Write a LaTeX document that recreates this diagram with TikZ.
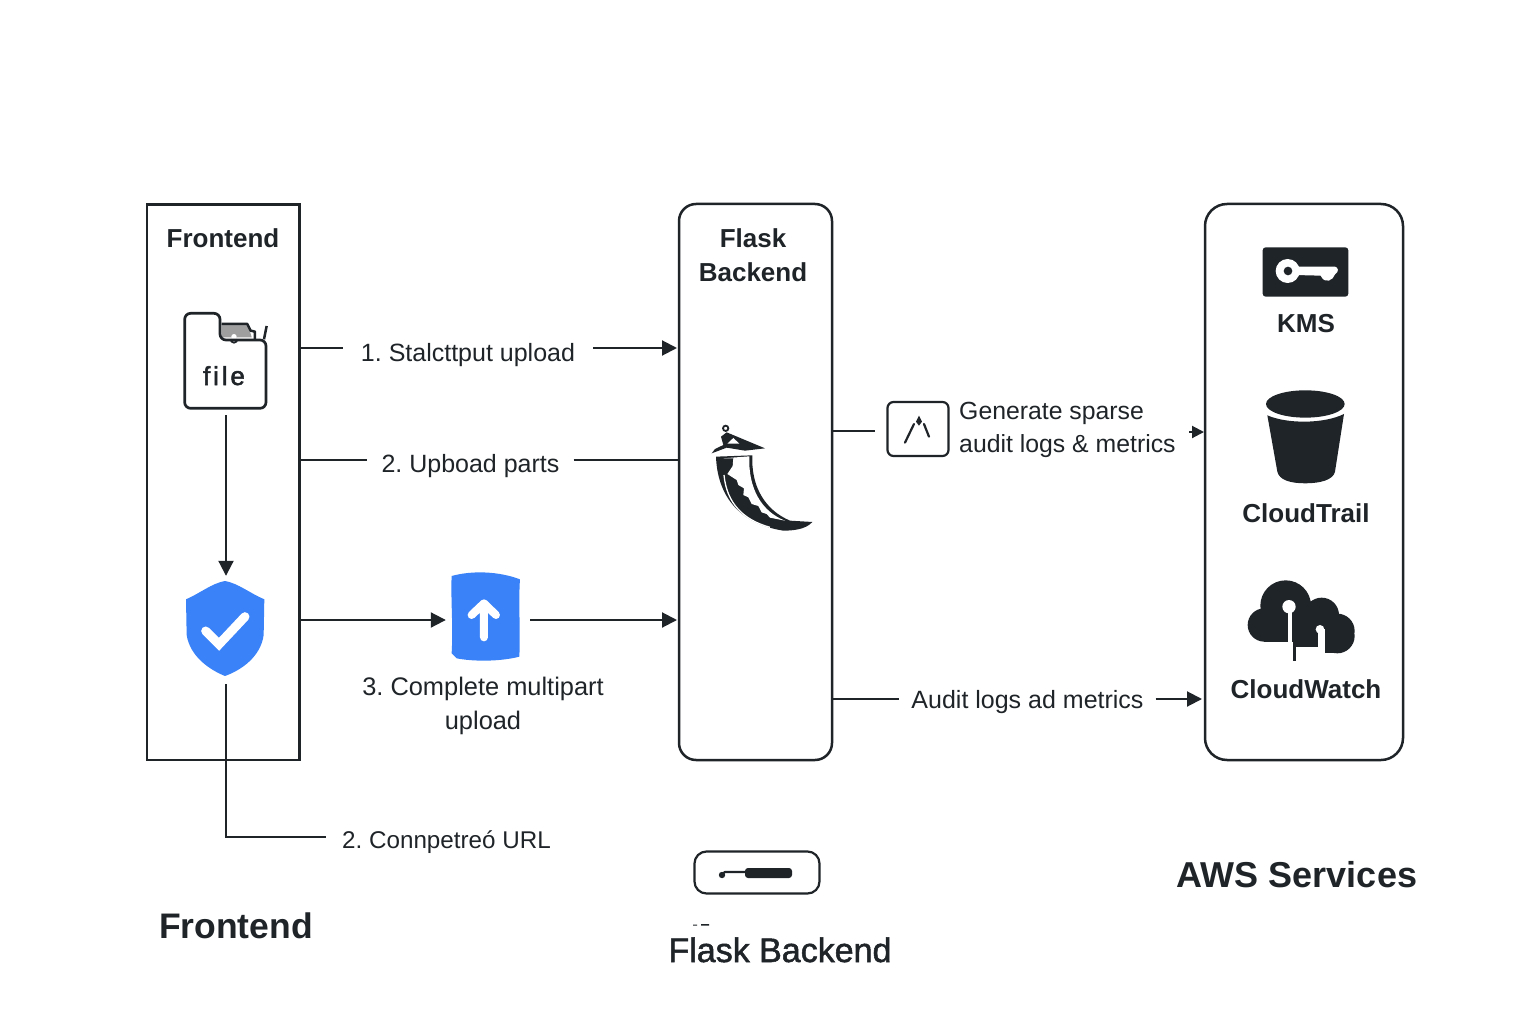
\documentclass[tikz,border=0pt]{standalone}
\usepackage{fontspec}
\setmainfont{Liberation Sans}
\usepackage{tikz}
\usetikzlibrary{arrows.meta}
\definecolor{inkdark}{HTML}{1F2429}
\definecolor{iconblue}{HTML}{3A82F7}
\tikzset{
    lbl/.style={anchor=base, inner ysep=0pt, inner xsep=14pt, text=inkdark, font=\fontsize{25}{34}\selectfont\frenchspacing},
    boxhead/.style={anchor=base, inner sep=0pt, text=inkdark, font=\fontsize{26}{35}\selectfont\bfseries},
    bighead/.style={anchor=base, inner sep=0pt, text=inkdark, font=\fontsize{36}{40}\selectfont\bfseries},
    conn/.style={draw=inkdark, line width=2pt},
    arr/.style={conn, -{Triangle[length=15pt,width=15pt]}},
    smallarr/.style={conn, -{Triangle[length=12pt,width=12pt]}}
}
\newcommand{\iconfile}[2]{\begin{scope}[shift={(#1,#2)},x=0.3333pt,y=-0.3333pt]
    \fill[gray!75] (245,372) -- (325,376) -- (335,412) -- (245,412) -- cycle;
    \draw[inkdark, line width=2.5pt, line join=round] (245,372) -- (322,372) -- (332,392) -- (345,395) -- (345,418);
    \draw[inkdark, line width=2.5pt] (372,418) -- (380,378);
    \fill[white] (282,410) circle (8);
    \draw[inkdark, line width=1.8pt] (272,418) arc (180:0:10);
    \draw[inkdark, line width=2.7pt, rounded corners=6pt] (134,500) -- (134,340) -- (240,340) -- (240,420) -- (378,420) -- (378,625) -- (134,625) -- cycle;
\end{scope}}
\newcommand{\iconshield}[2]{\begin{scope}[shift={(#1,#2)},x=0.3333pt,y=-0.3333pt]
    \fill[iconblue] (165,63) .. controls (125,70) and (90,100) .. (48,118) -- (50,225) .. controls (60,290) and (120,330) .. (165,348) .. controls (215,330) and (272,290) .. (281,225) -- (283,118) .. controls (240,100) and (205,70) .. (165,63) -- cycle;
    \draw[white, line width=9pt, line cap=round, line join=miter] (107,213) -- (147,253) -- (225,170);
\end{scope}}
\newcommand{\iconupload}[2]{\begin{scope}[shift={(#1,#2)},x=0.3333pt,y=-0.3333pt]
    \fill[iconblue] (845,48) .. controls (910,30) and (990,35) .. (1050,58) .. controls (1045,130) and (1052,220) .. (1048,290) .. controls (990,305) and (910,305) .. (860,295) -- (845,280) .. controls (850,200) and (842,120) .. (845,48) -- cycle;
    \draw[white, line width=8pt, line cap=round, line join=round] (942,232) -- (942,130) (905,165) -- (942,130) -- (978,165);
\end{scope}}
\newcommand{\iconflask}[2]{\begin{scope}[shift={(#1,#2)},x=0.3333pt,y=-0.3333pt]
    % cap
    \fill[inkdark] (65,160) -- (75,147) -- (100,135) -- (93,110) -- (110,97) -- (225,145) -- (165,152) -- (110,143) -- (65,160) -- cycle;
    \fill[white] (112,131) -- (130,114) -- (148,131) -- cycle;
    \draw[inkdark, line width=1.8pt] (107,85) circle (8);
    % body
    \fill[inkdark] (78,170) .. controls (82,280) and (140,370) .. (280,392) .. controls (320,392) and (350,385) .. (367,366) -- (300,362) .. controls (225,330) and (183,260) .. (187,166) -- cycle;
    \fill[white] (100,175) -- (178,169) .. controls (174,265) and (215,335) .. (285,362) -- (240,353) -- (230,342) -- (215,337) -- (205,318) -- (185,312) -- (175,292) -- (160,285) -- (162,265) -- (145,255) -- (140,240) -- (112,222) -- (128,198) -- (130,175) -- cycle;
    \draw[white, line width=1.3pt] (102,225) .. controls (110,310) and (160,360) .. (240,382);
\end{scope}}
\newcommand{\iconcaret}[2]{\begin{scope}[shift={(#1,#2)},x=0.3333pt,y=-0.3333pt]
    \draw[inkdark, line width=2.2pt, line cap=round] (645,128) -- (672,72) (702,72) -- (717,110);
    \fill[inkdark] (687,47) -- (696,65) -- (687,77) -- (678,65) -- cycle;
\end{scope}}
\newcommand{\iconkey}[2]{\begin{scope}[shift={(#1,#2)},x=0.3333pt,y=-0.3333pt]
    \fill[inkdark, rounded corners=3pt] (128,52) rectangle (385,200);
    \fill[white] (203,123) circle (36);
    \fill[white] (225,110) -- (345,110) .. controls (355,112) and (358,125) .. (345,133) .. controls (340,150) and (315,165) .. (302,137) -- (225,135) -- cycle;
    \fill[inkdark] (204,123) circle (13);
\end{scope}}
\newcommand{\iconbucket}[2]{\begin{scope}[shift={(#1,#2)},x=0.3333pt,y=-0.3333pt]
    \fill[inkdark] (256,522) ellipse (118 and 41);
    \fill[inkdark] (142,556) .. controls (200,582) and (312,582) .. (372,552) -- (345,725) .. controls (340,750) and (300,760) .. (256,760) .. controls (210,760) and (178,750) .. (172,725) -- cycle;
\end{scope}}
\newcommand{\iconcloud}[2]{\begin{scope}[shift={(#1,#2)},x=0.3333pt,y=-0.3333pt]
    \fill[inkdark] (197,107) circle (76) (305,135) circle (52) (352,183) circle (52) (352,198) circle (52) (133,165) circle (50);
    \fill[inkdark] (133,120) rectangle (352,215);
    \fill[inkdark] (218,200) rectangle (352,232);
    \fill[inkdark] (315,200) rectangle (352,250);
    \fill[inkdark] (218,225) rectangle (229,272);
    \fill[white] (207,110) circle (20);
    \fill[white] (203,110) rectangle (217,272);
    \fill[white] (300,178) circle (13);
    \fill[white] (293,178) rectangle (314,252);
\end{scope}}

\begin{document}
\begin{tikzpicture}[x=1pt,y=-1pt]
    \useasboundingbox[fill=white] (0,0) rectangle (1536,1024);
    % boxes
    \draw[inkdark, line width=2.6pt] (147,204.5) rectangle (299.5,760);
    \draw[inkdark, line width=2.5pt, rounded corners=17pt] (679,204) rectangle (832,760);
    \draw[inkdark, line width=2.5pt, rounded corners=22pt] (1205,204) rectangle (1403,760);
    \coordinate (frontA) at (300,348);
    \coordinate (frontB) at (300,460);
    \coordinate (frontC) at (300,620);
    \coordinate (flaskA) at (677,348);
    \coordinate (flaskB) at (679,460);
    \coordinate (flaskC) at (677,620);
    \coordinate (flaskD) at (833,431);
    \coordinate (flaskE) at (833,699);
    \coordinate (awsA) at (1204,432);
    \coordinate (awsE) at (1202,699);
    \coordinate (sparseout) at (1189,432);
    \coordinate (urlturn) at (226,837);
    % heads
    \node[boxhead] (headfront) at (223,248) {Frontend};
    \node[boxhead] (headflask) at (753,248) {Flask};
    \node[boxhead] (headback) at (753,282) {Backend};
    \node[boxhead] (headkms) at (1306,332) {KMS};
    \node[boxhead] (headtrail) at (1306,522) {CloudTrail};
    \node[boxhead] (headwatch) at (1306,698) {CloudWatch};
    \node[bighead, font=\fontsize{35.5}{40}\selectfont\bfseries] (capfront) at (236,938) {Frontend};
    \node[bighead, font=\fontsize{34}{40}\selectfont\addfontfeature{FakeBold=1.5}] (capflask) at (780,962) {Flask Backend};
    \node[bighead] (capaws) at (1297,887) {AWS Services};
    % icons
    \iconfile{140}{200}
    \iconshield{170}{560}
    \iconupload{170}{560}
    \iconflask{690}{400}
    \iconcaret{690}{400}
    \iconkey{1220}{230}
    \iconbucket{1220}{230}
    \iconcloud{1220}{570}
    \node[anchor=base, inner sep=0pt, text=inkdark, font=\fontsize{26}{30}\selectfont\addfontfeature{LetterSpace=11,FakeBold=2}] (filename) at (224,385) {file};
    \node[inner sep=0pt, minimum width=83pt, minimum height=106pt] (fileicon) at (226,362) {};
    \node[inner sep=0pt, minimum width=80pt, minimum height=108pt] (shield) at (226,630) {};
    \node[inner sep=0pt, minimum width=84pt, minimum height=90pt] (upload) at (488,617) {};
    \node[draw=inkdark, line width=2.2pt, rounded corners=6pt, minimum width=61pt, minimum height=54pt, inner sep=0pt] (sparsebox) at (918,429) {};
    \node[draw=inkdark, line width=2.2pt, rounded corners=12pt, minimum width=125pt, minimum height=42pt, inner sep=0pt] (keybox) at (757,872.5) {};
    \fill[inkdark, rounded corners=3pt] (745,868) rectangle (792,878);
    \draw[inkdark, line width=2.2pt, rounded corners=2pt] (722,875) -- (723,872) -- (746,872);
    \fill[inkdark] (722,875) circle (3.2);
    \fill[inkdark] (693,924.5) rectangle (697,925.5) (701,924) rectangle (709,925.5);
    % labels
    \node[lbl, inner xsep=18pt] (labA) at (468,361) {1. Stalcttput upload};
    \node[lbl] (labB) at (470.5,472) {2. Upboad parts};
    \node[lbl, align=center, anchor=center, font=\fontsize{25.4}{34}\selectfont\frenchspacing] (labC) at (483,706) {3. Complete multipart\\upload};
    \node[lbl, inner xsep=16pt, font=\fontsize{24.2}{33}\selectfont\frenchspacing] (labD) at (446.5,848) {2. Connpetreó URL};
    \node[lbl, align=left, anchor=west, inner xsep=0pt, font=\fontsize{24.8}{33}\selectfont\frenchspacing] (labE) at (959,430) {Generate sparse\\audit logs \& metrics};
    \node[lbl, inner xsep=12pt] (labF) at (1027.5,708) {Audit logs ad metrics};
    % row1
    \draw[conn] (frontA) -- (frontA -| labA.west);
    \draw[arr] (flaskA -| labA.east) -- (flaskA);
    % row2
    \draw[conn] (frontB) -- (frontB -| labB.west);
    \draw[conn] (flaskB -| labB.east) -- (flaskB);
    % row3
    \draw[arr] (frontC) -- (frontC -| upload.west);
    \draw[arr] (flaskC -| upload.east) -- (flaskC);
    % file to shield
    \draw[arr] (fileicon.south) -- (shield.north);
    \draw[conn] (shield.south) -- (urlturn) -- (labD.west |- urlturn);
    % right side
    \draw[conn] (flaskD) -- +(42,0);
    \draw[smallarr] (sparseout) -- (awsA);
    \draw[conn] (flaskE) -- (flaskE -| labF.west);
    \draw[arr] (awsE -| labF.east) -- (awsE);
\end{tikzpicture}
\end{document}
